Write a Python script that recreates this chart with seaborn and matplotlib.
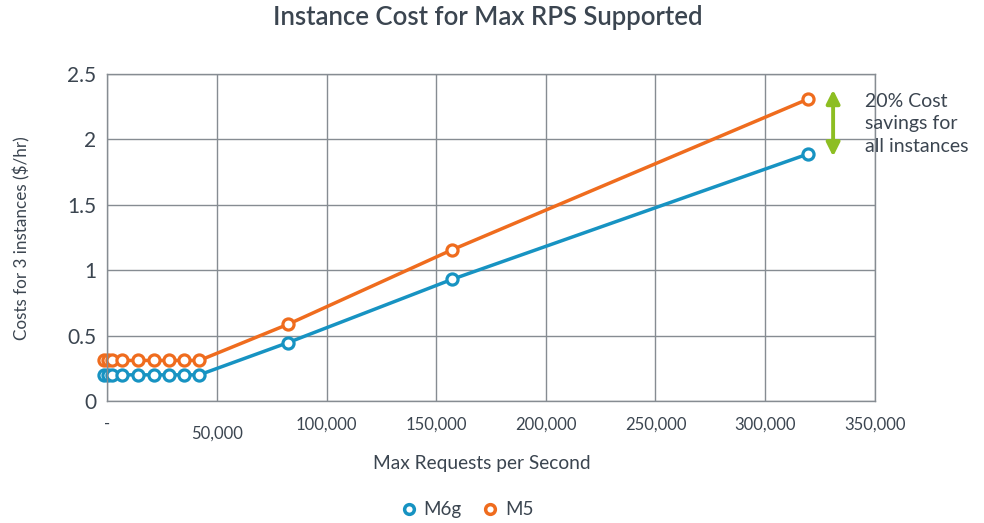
import pandas as pd
import matplotlib
matplotlib.use("Agg")
import matplotlib.pyplot as plt
import matplotlib.transforms as mtransforms
from matplotlib.lines import Line2D
from matplotlib.ticker import FuncFormatter, MultipleLocator
import seaborn as sns

# --- data ---
rps = [-1400, 200, 2000, 6500, 14000, 21300, 28000, 35000, 42000, 82200, 157200, 319700]
cost_m6g = [0.2, 0.2, 0.2, 0.2, 0.2, 0.2, 0.2, 0.2, 0.2, 0.445, 0.93, 1.89]
cost_m5 = [0.31, 0.31, 0.31, 0.31, 0.31, 0.31, 0.31, 0.31, 0.31, 0.585, 1.156, 2.31]
series = ["M6g", "M5"]
colors = {"M6g": "#1793C2", "M5": "#EF6C1E"}
note_text = "20% Cost\nsavings for\nall instances"

df = pd.concat([
    pd.DataFrame({"rps": rps, "cost": cost_m6g, "instance": "M6g"}),
    pd.DataFrame({"rps": rps, "cost": cost_m5, "instance": "M5"}),
])

text_col = "#3B4550"
grid_col = "#868C92"

sns.set_style("white")
plt.rcParams["font.family"] = ["Lato", "DejaVu Sans"]

fig = plt.figure(figsize=(9.84, 5.23), dpi=100)
ax = fig.add_axes([0.109, 0.2333, 0.780, 0.625])

sns.lineplot(data=df, x="rps", y="cost", hue="instance", hue_order=series,
             palette=colors, marker="o", markerfacecolor="white",
             markeredgewidth=2.3, markersize=8, linewidth=2.5,
             legend=False, ax=ax)
# seaborn gives markers a white edge; colour them like the line
for ln in ax.lines:
    ln.set_markeredgecolor(ln.get_color())
    ln.set_clip_on(False)

ax.set_xlim(0, 350000)
ax.set_ylim(0, 2.5)
ax.xaxis.set_major_locator(MultipleLocator(50000))
ax.yaxis.set_major_locator(MultipleLocator(0.5))
ax.xaxis.set_major_formatter(FuncFormatter(lambda v, p: "-" if v == 0 else f"{int(v):,}"))
ax.yaxis.set_major_formatter(FuncFormatter(lambda v, p: "0" if v == 0 else f"{v:g}"))
ax.grid(True, color=grid_col, linewidth=1)
ax.set_axisbelow(True)
for s in ax.spines.values():
    s.set_color(grid_col)
    s.set_linewidth(1)

ax.tick_params(axis="y", length=0, pad=8, labelsize=15, labelcolor=text_col)
ax.tick_params(axis="x", length=0, pad=11, labelsize=12, labelcolor=text_col)

# the 50,000 label sits a little lower in the reference
fig.canvas.draw()
for lbl in ax.get_xticklabels():
    if lbl.get_text() == "50,000":
        off = mtransforms.ScaledTranslation(0, -7 / 72, fig.dpi_scale_trans)
        lbl.set_transform(lbl.get_transform() + off)

ax.set_xlabel("")
ax.set_ylabel("")
fig.text(0.49, 0.114, "Max Requests per Second", ha="center", va="center",
         fontsize=13.8, color=text_col)
fig.text(0.022, 0.544, "Costs for 3 instances ($/hr)", ha="center", va="center",
         rotation=90, fontsize=12.3, color=text_col)
fig.text(0.496, 0.967, "Instance Cost for Max RPS Supported", ha="center", va="center",
         fontsize=18.5, fontweight="semibold", color=text_col)

# savings arrow and note
ax.annotate("", xy=(331000, 1.87), xytext=(331000, 2.38),
            arrowprops=dict(arrowstyle="<|-|>", color="#8DBE22", lw=2.8,
                            mutation_scale=20, shrinkA=0, shrinkB=0),
            annotation_clip=False)
fig.text(0.879, 0.822, note_text, ha="left", va="top", fontsize=14,
         color=text_col, linespacing=1.38)

handles = [Line2D([], [], ls="", marker="o", markerfacecolor="white",
                  markeredgecolor=colors[s], markeredgewidth=2.5, markersize=7)
           for s in series]
leg = fig.legend(handles, series, loc="center", bbox_to_anchor=(0.474, 0.025),
                 ncol=2, frameon=False, fontsize=13.5, handletextpad=0.3,
                 columnspacing=1.0, handlelength=1.0)
for t in leg.get_texts():
    t.set_color(text_col)

fig.savefig("out.png", dpi=100)
